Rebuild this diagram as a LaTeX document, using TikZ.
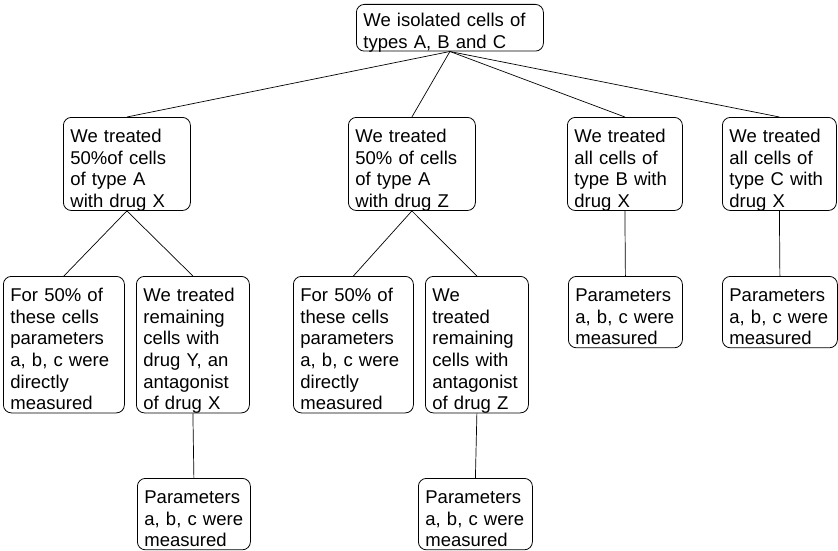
\documentclass[tikz,border=0pt]{standalone}
\usepackage{fontspec}
\setmainfont{Liberation Sans}
\usetikzlibrary{positioning}

\begin{document}
\begin{tikzpicture}[
    x=1pt, y=-1pt,
    cell/.style={draw, line width=0.8pt, rounded corners=8pt, anchor=north west,
        align=left, inner xsep=7pt, inner ysep=0pt,
        font=\fontsize{18.5}{21.7}\selectfont, text height=25pt},
    two/.style={text depth=24.7pt, text height=22pt},
    three/.style={text depth=46.4pt},
    four/.style={text depth=68.1pt},
    six/.style={text depth=111.5pt},
    link/.style={line width=0.7pt}
]
\useasboundingbox (0,0) rectangle (838,551);

\node[cell, two, text width=173pt] (root) at (356,4) {We isolated cells of\\types A, B and C};

\node[cell, four, text width=113pt] (a1) at (63,117) {We treated\\50\%of cells\\of type A\\with drug X};
\node[cell, four, text width=113pt] (a2) at (348,117) {We treated\\50\% of cells\\of type A\\with drug Z};
\node[cell, four, text width=101pt] (b) at (567,117) {We treated\\all cells of\\type B with\\drug X};
\node[cell, four, text width=100pt] (c) at (722,117) {We treated\\all cells of\\type C with\\drug X};

\node[cell, six, text width=107pt] (a1m) at (3,276) {For 50\% of\\these cells\\parameters\\a, b, c were\\directly\\measured};
\node[cell, six, text width=99pt] (a1y) at (136,276) {We treated\\remaining\\cells with\\drug Y, an\\antagonist\\of drug X};
\node[cell, six, text width=106pt] (a2m) at (293,276) {For 50\% of\\these cells\\parameters\\a, b, c were\\directly\\measured};
\node[cell, six, text width=89pt] (a2z) at (425,276) {We\\treated\\remaining\\cells with\\antagonist\\of drug Z};
\node[cell, three, text width=100pt] (bm) at (568,276) {Parameters\\a, b, c were\\measured};
\node[cell, three, text width=101pt] (cm) at (722,276) {Parameters\\a, b, c were\\measured};

\node[cell, three, text width=99pt] (ym) at (137,478) {Parameters\\a, b, c were\\measured};
\node[cell, three, text width=100pt] (zm) at (418,478) {Parameters\\a, b, c were\\measured};

\draw[link] (root.south) -- (a1.north);
\draw[link] (root.south) -- (a2.north);
\draw[link] (root.south) -- (b.north);
\draw[link] (root.south) -- (c.north);

\draw[link] (a1.south) -- (a1m.north);
\draw[link] (a1.south) -- (a1y.north);
\draw[link] (a2.south) -- (a2m.north);
\draw[link] (a2.south) -- (a2z.north);
\draw[link] (b.south) -- (bm.north);
\draw[link] (c.south) -- (cm.north);

\draw[link] (a1y.south) -- (ym.north);
\draw[link] (a2z.south) -- (zm.north);

\end{tikzpicture}
\end{document}
